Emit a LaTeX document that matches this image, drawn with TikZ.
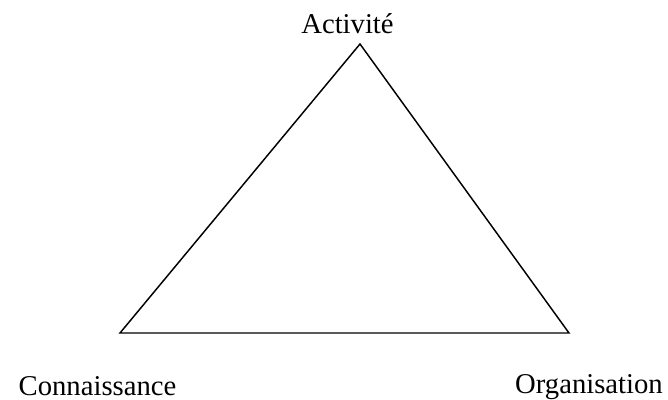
\documentclass[tikz,border=0pt]{standalone}
\usepackage{fontspec}
\setmainfont{Liberation Serif}
\begin{document}
\begin{tikzpicture}[x=0.75pt,y=-0.75pt,
  lbl/.style={font=\fontsize{21.5pt}{24pt}\selectfont, inner sep=0pt, anchor=base},
  edge/.style={line width=1.1pt, line join=miter}]
\useasboundingbox (0,0) rectangle (668,400);
\coordinate (top) at (360,44);
\coordinate (bl) at (120,333);
\coordinate (br) at (569,333);
\node[lbl] (act) at (347.5,33) {Activité};
\node[lbl] (con) at (97.5,395) {Connaissance};
\node[lbl] (org) at (589,393) {Organisation};
\draw[edge] (top) -- (bl) -- (br) -- cycle;
\end{tikzpicture}
\end{document}
